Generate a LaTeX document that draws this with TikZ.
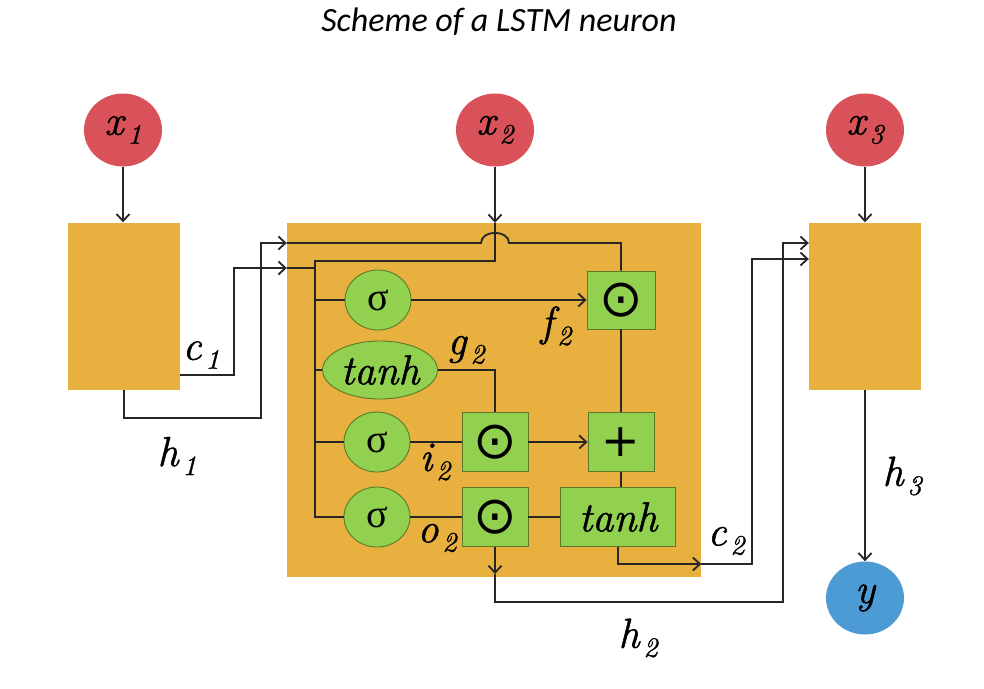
\documentclass[tikz,border=0pt]{standalone}
\usepackage{fontspec}
\setmainfont{Liberation Serif}
\newfontfamily\titlefont{Carlito}
\newfontfamily\opsymfont{DejaVu Sans}
\newfontfamily\lblserif{Latin Modern Roman}[FakeBold=1.2]
\usetikzlibrary{arrows.meta,shapes.geometric}
\definecolor{cellc}{HTML}{E8B13F}
\definecolor{inc}{HTML}{D9525A}
\definecolor{outc}{HTML}{4C9BD5}
\definecolor{gatec}{HTML}{92D050}
\definecolor{gateb}{HTML}{5A7A28}
\definecolor{wirec}{HTML}{262626}
\newcommand\lblfont{\lblserif\fontsize{42}{42}\selectfont\itshape}
\newcommand\subl[2]{#1\hspace{4pt}\raisebox{-9pt}{\fontsize{28}{28}\selectfont #2}}
\begin{document}
\begin{tikzpicture}[x=1pt,y=-1pt,
  wire/.style={draw=wirec, line width=1.8pt},
  arr/.style={wire, -{Straight Barb[length=7pt,width=13pt]}},
  cellbox/.style={rectangle, fill=cellc, inner sep=0pt, minimum width=112pt, minimum height=167pt},
  innode/.style={ellipse, fill=inc, inner sep=0pt, minimum width=78pt, minimum height=73pt, font=\lblfont},
  gate/.style={fill=gatec, draw=gateb, line width=0.9pt, inner sep=0pt},
  sig/.style={gate, ellipse, minimum width=66pt, minimum height=60pt, font=\fontsize{40}{40}\selectfont},
  tanhell/.style={gate, ellipse, minimum width=115pt, minimum height=58pt, font=\lblfont},
  opbox/.style={gate, rectangle, minimum width=66pt, minimum height=59pt, font=\opsymfont\fontsize{52}{52}\selectfont},
  lab/.style={font=\lblfont, inner sep=0pt}
]
\useasboundingbox (0,0) rectangle (984,688);
\fill[white] (0,0) rectangle (984,688);

% title
\node[font=\titlefont\itshape\fontsize{34}{34}\selectfont, inner sep=0pt] (title) at (499,22) {Scheme of a LSTM neuron};

% cells
\node[cellbox] (lc) at (124,306) {};
\node[cellbox, minimum width=414pt, minimum height=354pt] (mc) at (494,400) {};
\node[cellbox] (rc) at (865,306) {};

% inputs / output
\node[innode] (x1) at (123,130) {\subl{x}{1}};
\node[innode] (x2) at (495,130) {\subl{x}{2}};
\node[innode] (x3) at (865,130) {\subl{x}{3}};
\node[innode, fill=outc] (y) at (865,598) {y};

% gates
\node[sig] (sig1) at (378,300) {σ};
\node[tanhell] (tanhg) at (380,370) {tanh};
\node[sig] (sig2) at (377,442) {σ};
\node[sig] (sig3) at (377,517) {σ};
\node[opbox, minimum width=68pt, minimum height=58pt] (fmul) at (621,300) {⊙};
\node[opbox] (imul) at (495,442) {⊙};
\node[opbox, font=\opsymfont\fontsize{46}{46}\selectfont] (plus) at (621,442) {+};
\node[opbox] (omul) at (495,517) {⊙};
\node[opbox, minimum width=115pt, font=\lblfont] (tanhc) at (618,517) {tanh};

% helper coordinates
\coordinate (busTop) at (315,261);
\coordinate (cIn) at (315,268);
\coordinate (c1turn) at (234,375);
\coordinate (h1turn) at (261,418);
\coordinate (hTop) at (481,243);
\coordinate (hTopR) at (509,243);
\coordinate (hOutTip) at (495,574);
\coordinate (h2turn) at (783,602);
\coordinate (rInH) at (783,243);
\coordinate (c2turn) at (752,564);
\coordinate (rInC) at (752,259);

% input arrows
\draw[arr] (x1.south) -- (x1.south |- lc.north);
\draw[arr] (x2.south) -- (x2.south |- mc.north);
\draw[arr] (x3.south) -- (x3.south |- rc.north);

% c1 and h1 into middle cell
\draw[arr] (lc.east |- c1turn) -- (c1turn) -- (c1turn |- cIn) -- (mc.west |- cIn);
\draw[arr] (lc.south) -- (lc.south |- h1turn) -- (h1turn) -- (h1turn |- hTop) -- (mc.west |- hTop);

% inside middle cell
\draw[wire] (mc.west |- cIn) -- (cIn);
\draw[wire] (x2.south |- mc.north) -- (x2.south |- busTop) -- (busTop) -- (busTop |- sig3) -- (sig3.west);
\draw[wire] (mc.west |- hTop) -- (hTop) .. controls (481,229.5) and (509,229.5) .. (hTopR) -- (fmul.north |- hTopR) -- (fmul.north);
\draw[wire] (busTop |- sig1) -- (sig1.west);
\draw[arr] (sig1.east) -- (fmul.west);
\draw[wire] (busTop |- tanhg) -- (tanhg.west);
\draw[wire] (tanhg.east) -- (imul.north |- tanhg) -- (imul.north);
\draw[wire] (busTop |- sig2) -- (sig2.west);
\draw[wire] (sig2.east) -- (imul.west);
\draw[arr] (imul.east) -- (plus.west);
\draw[wire] (fmul.south) -- (plus.north);
\draw[wire] (plus.south) -- (plus.south |- tanhc.north);
\draw[wire] (sig3.east) -- (omul.west);
\draw[wire] (omul.east) -- (tanhc.west);

% outputs of middle cell
\draw[arr] (omul.south) -- (hOutTip);
\draw[arr] (hOutTip) -- (hOutTip |- h2turn) -- (h2turn) -- (rInH) -- (rc.west |- rInH);
\draw[arr] (tanhc.south) -- (tanhc.south |- c2turn) -- (mc.east |- c2turn);
\draw[arr] (mc.east |- c2turn) -- (c2turn) -- (rInC) -- (rc.west |- rInC);

% output
\draw[arr] (rc.south) -- (y.north);

% labels
\node[lab] (lc1) at (201,355) {\subl{c}{1}};
\node[lab] (lh1) at (177,456) {\subl{h}{1}};
\node[lab] (lf2) at (556,326) {\subl{f}{2}};
\node[lab] (lg2) at (466,350) {\subl{g}{2}};
\node[lab] (li2) at (435,462) {\subl{i}{2}};
\node[lab] (lo2) at (437,538) {\subl{o}{2}};
\node[lab] (lc2) at (726,541) {\subl{c}{2}};
\node[lab] (lh2) at (638,638) {\subl{h}{2}};
\node[lab] (lh3) at (902,476) {\subl{h}{3}};
\end{tikzpicture}
\end{document}
